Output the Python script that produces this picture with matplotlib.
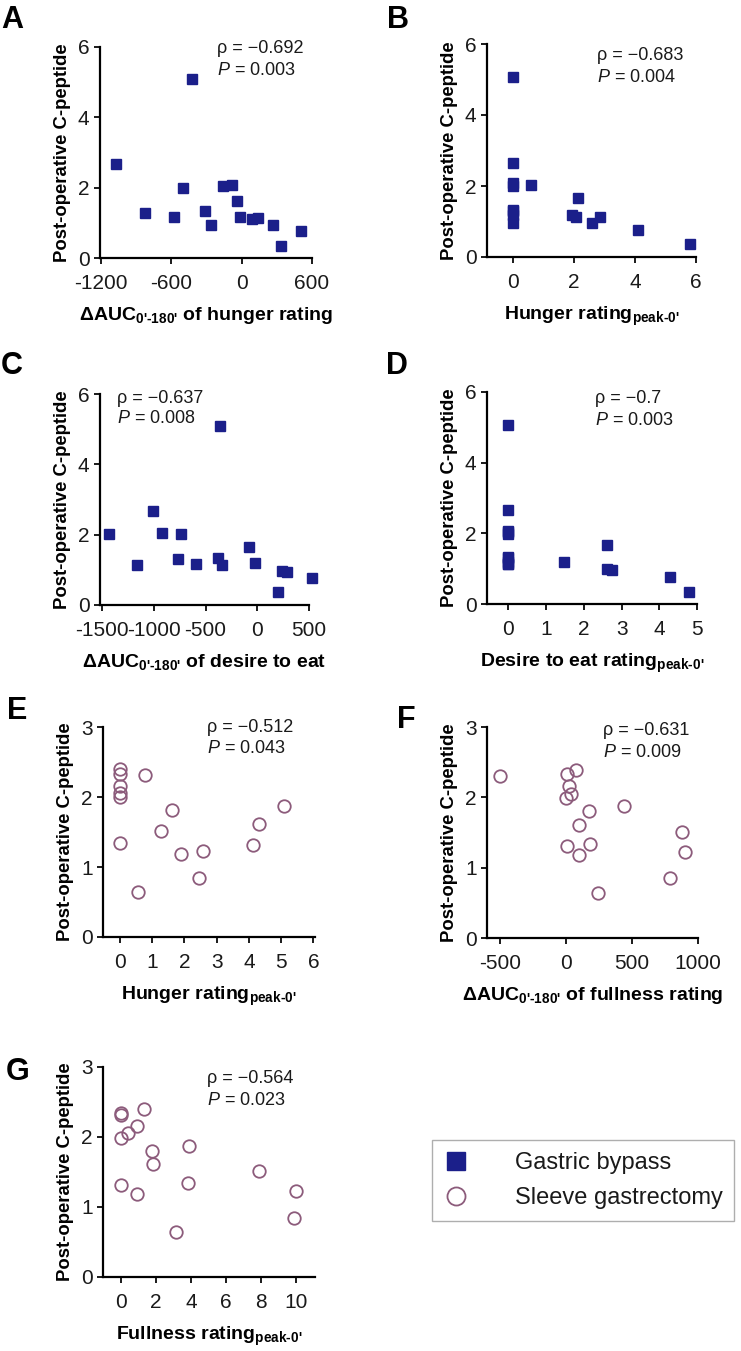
import matplotlib
matplotlib.use("Agg")
import matplotlib.pyplot as plt
from matplotlib.lines import Line2D

plt.rcParams["font.family"] = ["Liberation Sans", "DejaVu Sans"]
plt.rcParams["axes.unicode_minus"] = False
plt.rcParams["mathtext.fontset"] = "custom"
plt.rcParams["mathtext.rm"] = "Liberation Sans:bold"
plt.rcParams["mathtext.it"] = "Liberation Sans:italic"
plt.rcParams["mathtext.bf"] = "Liberation Sans:bold"

# ---- data ----
a_x = [-1075, -822, -578, -504, -428, -314, -266, -158, -79, -42, -16, 89, 143, 268, 339, 506]
a_y = [2.66, 1.29, 1.18, 1.99, 5.08, 1.33, 0.95, 2.04, 2.08, 1.63, 1.18, 1.12, 1.14, 0.94, 0.34, 0.76]

b_x = [0, 0, 0, 0, 0, 0, 0, 0, 0.6, 2.13, 1.93, 2.06, 2.6, 2.86, 4.11, 5.8]
b_y = [5.07, 2.64, 2.08, 2.0, 1.33, 1.29, 1.18, 0.95, 2.04, 1.65, 1.19, 1.14, 0.96, 1.14, 0.77, 0.36]

c_x = [-1429, -1165, -1006, -916, -768, -735, -594, -384, -358, -342, -77, -26, 197, 239, 287, 526]
c_y = [2.02, 1.14, 2.66, 2.06, 1.31, 2.03, 1.18, 1.35, 5.09, 1.15, 1.66, 1.20, 0.36, 0.97, 0.95, 0.77]

d_x = [0, 0, 0, 0, 0, 0, 0, 0, 0, 0, 1.46, 2.62, 2.62, 2.75, 4.29, 4.78]
d_y = [5.08, 2.66, 2.08, 2.04, 1.99, 1.33, 1.29, 1.18, 1.14, 1.12, 1.19, 1.67, 0.98, 0.95, 0.77, 0.35]

e_x = [0, 0, 0, 0, 0, 0, 0.77, 0.58, 1.29, 1.63, 1.89, 2.47, 2.59, 4.13, 4.30, 5.10]
e_y = [2.40, 2.33, 2.16, 2.06, 2.00, 1.34, 2.31, 0.64, 1.51, 1.81, 1.18, 0.85, 1.23, 1.31, 1.61, 1.87]

f_x = [-500, 5, 78, 25, 35, 2, 174, 98, 436, 5, 181, 101, 242, 879, 905, 791]
f_y = [2.31, 2.33, 2.39, 2.16, 2.05, 1.99, 1.80, 1.61, 1.87, 1.31, 1.34, 1.18, 0.64, 1.51, 1.22, 0.85]

g_x = [0, 0, 0, 0.4, 0.9, 1.3, 1.75, 1.85, 0, 0.91, 3.12, 3.81, 3.9, 7.89, 10.02, 9.87]
g_y = [2.34, 2.31, 1.99, 2.06, 2.16, 2.40, 1.80, 1.62, 1.31, 1.19, 0.64, 1.34, 1.87, 1.52, 1.23, 0.85]

rho_labels = ["\u03c1 = \u22120.692", "\u03c1 = \u22120.683", "\u03c1 = \u22120.637", "\u03c1 = \u22120.7",
              "\u03c1 = \u22120.512", "\u03c1 = \u22120.631", "\u03c1 = \u22120.564"]
p_labels = ["0.003", "0.004", "0.008", "0.003", "0.043", "0.009", "0.023"]

x_labels = [
    "\u0394AUC$_{\\text{0'-180'}}$ of hunger rating",
    "Hunger rating$_{\\text{peak-0'}}$",
    "\u0394AUC$_{\\text{0'-180'}}$ of desire to eat",
    "Desire to eat rating$_{\\text{peak-0'}}$",
    "Hunger rating$_{\\text{peak-0'}}$",
    "\u0394AUC$_{\\text{0'-180'}}$ of fullness rating",
    "Fullness rating$_{\\text{peak-0'}}$",
]
y_label = "Post-operative C-peptide"

BLUE = "#1b1f8a"
MAUVE = "#8c5b7b"
W, H = 741, 1351

fig = plt.figure(figsize=(W / 100, H / 100), dpi=100)


def px_axes(l, t, r, b):
    return fig.add_axes([l / W, 1 - b / H, (r - l) / W, (b - t) / H])


def style(ax, xlim, ylim, xticks, yticks):
    ax.set_xlim(*xlim)
    ax.set_ylim(*ylim)
    ax.set_xticks(xticks)
    ax.set_yticks(yticks)
    for s in ["top", "right"]:
        ax.spines[s].set_visible(False)
    for s in ["left", "bottom"]:
        ax.spines[s].set_linewidth(1.6)
    ax.tick_params(width=1.4, length=4.5, labelsize=15, colors="#1a1a1a")
    ax.tick_params(axis="x", pad=7)
    ax.tick_params(axis="y", pad=3)
    ax.set_ylabel(y_label, fontsize=13.3, fontweight="bold", labelpad=5)


def fig_text(x, y, s, **kw):
    fig.text(x / W, 1 - y / H, s, **kw)


panels = [
    # box (px), xlim, ylim, xticks, yticks, data, marker
    ((100, 47, 312, 258), (-1210, 600), (0, 6), [-1200, -600, 0, 600], [0, 2, 4, 6], a_x, a_y, "s"),
    ((487, 44, 696, 257), (-0.85, 6), (0, 6), [0, 2, 4, 6], [0, 2, 4, 6], b_x, b_y, "s"),
    ((100, 394, 309, 605), (-1520, 500), (0, 6), [-1500, -1000, -500, 0, 500], [0, 2, 4, 6], c_x, c_y, "s"),
    ((487, 392, 697, 604), (-0.57, 5), (0, 6), [0, 1, 2, 3, 4, 5], [0, 2, 4, 6], d_x, d_y, "s"),
    ((103, 727, 315, 937), (-0.52, 6.05), (0, 3), [0, 1, 2, 3, 4, 5, 6], [0, 1, 2, 3], e_x, e_y, "o"),
    ((487, 727, 698, 938), (-600, 1000), (0, 3), [-500, 0, 500, 1000], [0, 1, 2, 3], f_x, f_y, "o"),
    ((103, 1067, 315, 1277), (-1.03, 11.1), (0, 3), [0, 2, 4, 6, 8, 10], [0, 1, 2, 3], g_x, g_y, "o"),
]

for i, (box, xlim, ylim, xt, yt, xs, ys, mk) in enumerate(panels):
    ax = px_axes(*box)
    style(ax, xlim, ylim, xt, yt)
    if mk == "s":
        ax.plot(xs, ys, ls="none", marker="s", ms=7.5, mfc=BLUE, mec=BLUE, clip_on=False)
    else:
        ax.plot(xs, ys, ls="none", marker="o", ms=9, mfc="none", mec=MAUVE, mew=1.3, clip_on=False)
    ax.set_xlabel(x_labels[i], fontsize=14, fontweight="bold", labelpad=9)

# correlation annotations (left x, top of first line, top of second line)
ann_pos = [(217, 40, 62), (597, 47, 69), (117, 390, 410), (595, 390, 412),
           (207, 719, 740), (603, 722, 744), (207, 1070, 1092)]
for (x, y1, y2), rl, pl in zip(ann_pos, rho_labels, p_labels):
    fig_text(x, y1, rl, fontsize=13, va="top", ha="left", color="#1a1a1a")
    fig_text(x, y2, "$P$ = " + pl, fontsize=13, va="top", ha="left", color="#1a1a1a")

# panel letters
letters = [("A", 1, 28), ("B", 387, 28), ("C", 1, 374), ("D", 386, 374),
           ("E", 7, 719), ("F", 397, 728), ("G", 6, 1080)]
for s, x, y in letters:
    fig_text(x, y, s, fontsize=22, fontweight="bold", va="baseline", ha="left")

handles = [
    Line2D([], [], ls="none", marker="s", ms=13, mfc=BLUE, mec=BLUE),
    Line2D([], [], ls="none", marker="o", ms=13, mfc="none", mec=MAUVE, mew=1.3),
]
leg = fig.legend(handles, ["Gastric bypass", "Sleeve gastrectomy"],
                 loc="upper left", bbox_to_anchor=(432 / W, 1 - 1140 / H),
                 fontsize=17, frameon=True, fancybox=False, edgecolor="#9a9a9a",
                 handletextpad=2.0, handlelength=1.0, borderpad=0.5,
                 labelspacing=0.55, borderaxespad=0)
leg.get_frame().set_linewidth(1.0)
for t in leg.get_texts():
    t.set_color("#1a1a1a")

fig.savefig("out.png", dpi=100)
